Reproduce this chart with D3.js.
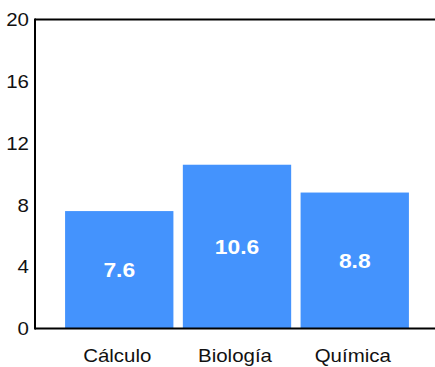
<!DOCTYPE html>
<html>
<head>
<meta charset="utf-8">
<script src="https://cdn.jsdelivr.net/npm/d3@7/dist/d3.min.js"></script>
<style>
  html, body { margin: 0; padding: 0; background: #fff; }
  svg { display: block; }
  text { font-family: "Liberation Sans", Arial, Helvetica, sans-serif; }
</style>
</head>
<body>
<svg id="chart" width="435" height="367"></svg>
<script>
const categories = ["Cálculo", "Biología", "Química"];
const values = [7.6, 10.6, 8.8];
const yTicks = [0, 4, 8, 12, 16, 20];

(function () {
const mLeft = 35, mTop = 19.5, mBottom = 328.5, mRight = 435;
const stretch = 1.17;
const barColor = "#4493fd";

const svg = d3.select("#chart");

const x = d3.scaleBand()
  .domain(categories)
  .range([38, 436])
  .paddingInner(0.08)
  .paddingOuter(0.23);

const y = d3.scaleLinear()
  .domain([0, 20])
  .range([mBottom, mTop]);

// bars
svg.selectAll("rect.bar")
  .data(values)
  .enter().append("rect")
  .attr("class", "bar")
  .attr("x", (d, i) => x(categories[i]))
  .attr("width", x.bandwidth())
  .attr("y", d => y(d))
  .attr("height", d => y(0) - y(d))
  .attr("fill", barColor);

// frame lines: left, top, bottom
svg.append("line").attr("x1", mLeft).attr("x2", mRight).attr("y1", mTop).attr("y2", mTop)
  .attr("stroke", "#000").attr("stroke-width", 2);
svg.append("line").attr("x1", mLeft).attr("x2", mRight).attr("y1", mBottom).attr("y2", mBottom)
  .attr("stroke", "#000").attr("stroke-width", 2);
svg.append("line").attr("x1", mLeft).attr("x2", mLeft).attr("y1", mTop - 1).attr("y2", mBottom + 1)
  .attr("stroke", "#000").attr("stroke-width", 2);

// y axis tick labels
const yAxis = d3.axisLeft(y).tickValues(yTicks).tickSize(0).tickPadding(0);
const yg = svg.append("g").attr("transform", `translate(${mLeft - 6},0)`).call(yAxis);
yg.select(".domain").remove();
yg.selectAll("text")
  .attr("x", 0)
  .attr("dy", "0.35em")
  .attr("fill", "#111")
  .style("font-size", "17.5px")
  .attr("transform", `scale(${stretch},1)`);

// x category labels
const xAxis = d3.axisBottom(x).tickSize(0).tickPadding(0);
const xg = svg.append("g").attr("transform", `translate(0,${mBottom})`).call(xAxis);
xg.select(".domain").remove();
xg.selectAll("text")
  .attr("y", 0)
  .attr("dy", null)
  .attr("fill", "#111")
  .style("font-size", "17.5px")
  .attr("transform", `translate(-2,33.5) scale(${stretch},1)`);

// value labels
svg.selectAll("g.vlab")
  .data(values)
  .enter().append("g")
  .attr("class", "vlab")
  .attr("transform", (d, i) => `translate(${x(categories[i]) + x.bandwidth() / 2},${(y(d) + y(0)) / 2})`)
  .append("text")
  .attr("text-anchor", "middle")
  .attr("dy", "0.36em")
  .attr("fill", "#fff")
  .style("font-size", "19.5px")
  .style("font-weight", "bold")
  .attr("transform", `scale(${stretch},1)`)
  .text(d => d.toFixed(1));
})();
</script>
</body>
</html>
